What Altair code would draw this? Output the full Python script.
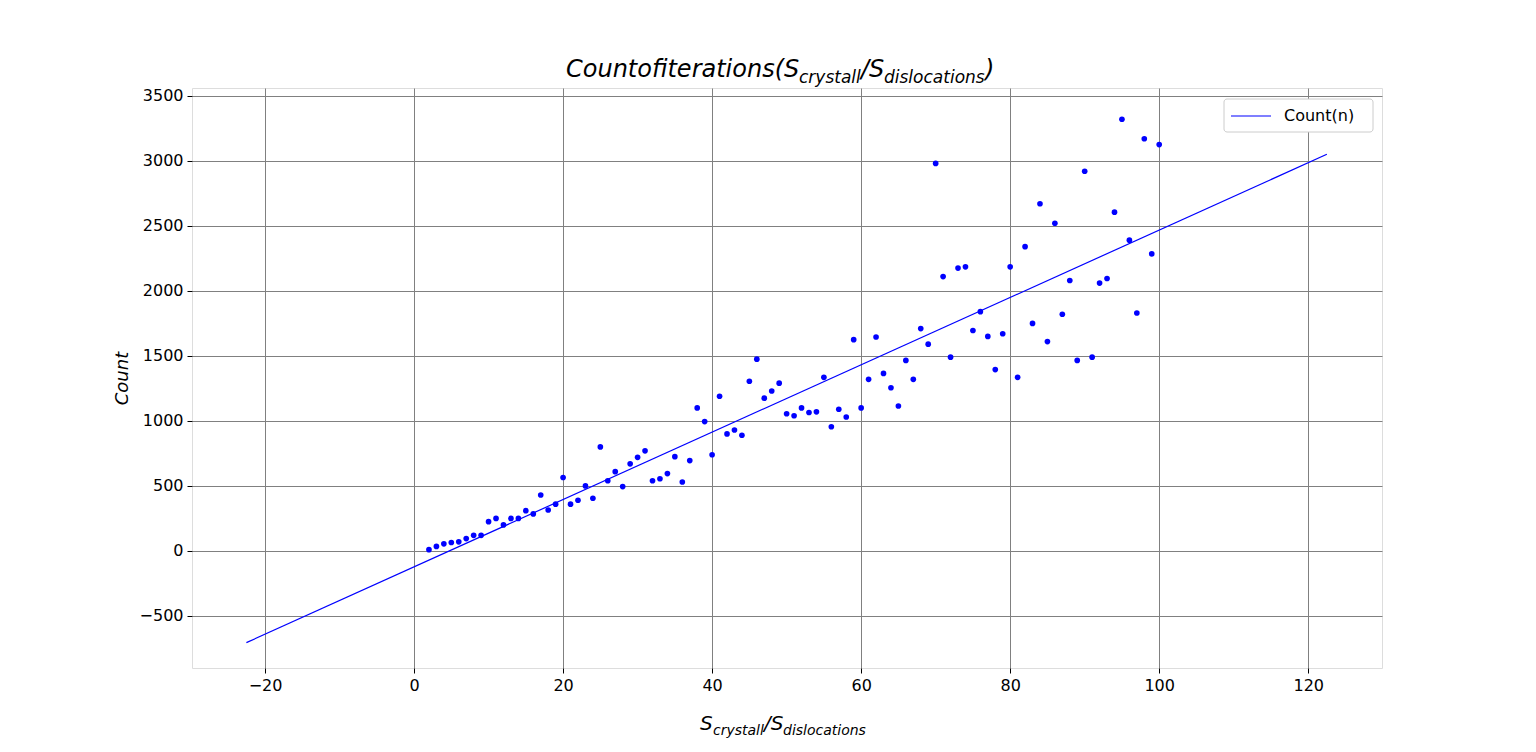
import altair as alt
import pandas as pd

ratio = list(range(2, 101))
count = [10, 35, 55, 65, 70, 95, 120, 120, 225, 250, 200, 250, 250, 310, 285, 430, 315, 360, 565,
         360, 390, 500, 405, 800, 540, 610, 495, 670, 720, 770, 540, 555, 595, 725, 530, 695, 1100,
         995, 740, 1190, 900, 930, 890, 1305, 1475, 1175, 1230, 1290, 1055, 1040, 1100, 1065, 1070,
         1335, 955, 1090, 1030, 1625, 1100, 1320, 1645, 1365, 1255, 1115, 1465, 1320, 1710, 1590,
         2980, 2110, 1490, 2175, 2185, 1695, 1840, 1650, 1395, 1670, 2185, 1335, 2340, 1750, 2670,
         1610, 2520, 1820, 2080, 1465, 2920, 1490, 2060, 2095, 2605, 3320, 2390, 1830, 3170, 2285,
         3125]
fit_x = [-22.5, 122.5]
fit_y = [-705, 3050]

W, H = 1190, 580
pts = pd.DataFrame({"x": ratio, "y": count})
fit = pd.DataFrame({"x": fit_x, "y": fit_y})

xs = alt.Scale(domain=[-29.8, 129.9], nice=False, zero=False)
ys = alt.Scale(domain=[-900, 3560], nice=False, zero=False)
common = dict(grid=True, gridColor="#808080", gridOpacity=1, labelFontSize=16,
              labelColor="black", tickColor="black", tickSize=5, domain=False,
              labelFont="DejaVu Sans", format="d")
xax = alt.Axis(values=list(range(-20, 121, 20)), title=None, labelPadding=4, **common)
yax = alt.Axis(values=list(range(-500, 3501, 500)), title="Count", titleFontStyle="italic",
               titleFontWeight="normal", titleFontSize=18, titleFont="DejaVu Sans",
               titlePadding=8, titleColor="black", labelPadding=4, **common)

line = alt.Chart(fit).mark_line(color="blue", strokeWidth=1.2).encode(
    x=alt.X("x:Q", scale=xs, axis=xax), y=alt.Y("y:Q", scale=ys, axis=yax))
dots = alt.Chart(pts).mark_circle(color="blue", size=32, opacity=1).encode(
    x=alt.X("x:Q", scale=xs), y=alt.Y("y:Q", scale=ys))

def label(txt, px, py, size):
    return alt.Chart(pd.DataFrame({"t": [txt]})).mark_text(
        align="left", baseline="alphabetic", font="DejaVu Sans", fontStyle="italic",
        fontSize=size, color="black").encode(x=alt.value(px), y=alt.value(py), text="t:N")

title = [label("Countofiterations(S", 374, -11, 24), label("crystall", 607, -5, 17),
         label("/S", 669, -11, 24), label("dislocations", 692, -5, 17), label(")", 793, -11, 24)]
xlab = [label("S", 508, 642, 20), label("crystall", 521, 647, 14),
        label("/S", 572, 642, 20), label("dislocations", 591, 647, 14)]

leg_box = alt.Chart(pd.DataFrame({"a": [0]})).mark_rect(
    fill="white", stroke="#cccccc", cornerRadius=3).encode(
    x=alt.value(1032), x2=alt.value(1181), y=alt.value(11), y2=alt.value(44))
leg_line = alt.Chart(pd.DataFrame({"a": [0]})).mark_rule(color="blue", strokeWidth=1.2).encode(
    x=alt.value(1039), x2=alt.value(1079), y=alt.value(28))
leg_txt = alt.Chart(pd.DataFrame({"t": ["Count(n)"]})).mark_text(
    align="left", baseline="middle", font="DejaVu Sans", fontSize=16, color="black").encode(
    x=alt.value(1092), y=alt.value(28), text="t:N")

chart = alt.layer(line, dots, *title, *xlab, leg_box, leg_line, leg_txt).properties(
    width=W, height=H, autosize=alt.AutoSizeParams(type="none"),
    padding={"left": 184, "top": 80, "right": 146, "bottom": 76},
).configure_view(stroke="black", strokeWidth=1.2).configure(background="white")

chart.save("out.html", embed_options={"renderer": "svg", "actions": False})
